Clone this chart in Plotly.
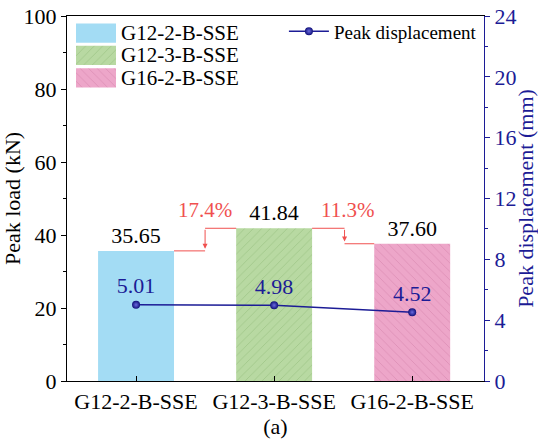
import plotly.graph_objects as go

# Specimen data
specimens = ["G12-2-B-SSE", "G12-3-B-SSE", "G16-2-B-SSE"]
peak_load = [35.65, 41.84, 37.60]          # kN
peak_disp = [5.01, 4.98, 4.52]             # mm
increase_labels = ["17.4%", "11.3%"]

bar_colors = ["#A3DCF4", "#B8D9A2", "#EDA6C9"]
hatch_fg = ["#A3DCF4", "#8DB874", "#CF7CA5"]
hatch_shape = ["", "/", "\\"]

FONT = "Times New Roman"
NAVY = "#1C1C96"
RED = "#F0504F"
xs = [0, 1, 2]
bw = 0.55

fig = go.Figure()

for i, name in enumerate(specimens):
    fig.add_trace(go.Bar(
        x=[xs[i]], y=[peak_load[i]], width=bw, name=name,
        marker=dict(color=bar_colors[i], line=dict(width=0),
                    pattern=dict(shape=hatch_shape[i], fgcolor=hatch_fg[i],
                                 bgcolor=bar_colors[i], size=6, solidity=0.15)),
        texttemplate="%{y:.2f}", textposition="outside", cliponaxis=False,
        textfont=dict(family=FONT, size=22, color="black"),
        showlegend=False,
    ))

fig.add_trace(go.Scatter(
    x=xs, y=peak_disp, yaxis="y2", name="Peak displacement",
    mode="lines+markers+text", text=[f"{v:.2f}" for v in peak_disp],
    textposition="top center", textfont=dict(family=FONT, size=22, color=NAVY),
    line=dict(color=NAVY, width=1.5),
    marker=dict(color="#10107A", size=8, gradient=dict(type="radial", color="#6A6ADF")),
    cliponaxis=False,
))

# Swatches for the specimen key, drawn on a small inset axis
for i, name in enumerate(specimens):
    fig.add_trace(go.Bar(
        x=[1], y=[i], base=0, orientation="h", width=0.86,
        xaxis="x3", yaxis="y3", showlegend=False, hoverinfo="skip",
        marker=dict(color=bar_colors[i], line=dict(width=0),
                    pattern=dict(shape=hatch_shape[i], fgcolor=hatch_fg[i],
                                 bgcolor=bar_colors[i], size=6, solidity=0.15)),
    ))

annotations = []
for i, name in enumerate(specimens):
    annotations.append(dict(x=1, y=i, xref="x3", yref="y3", text=name, showarrow=False,
                            xanchor="left", xshift=3, font=dict(family=FONT, size=21, color="black")))

# Increase arrows between neighbouring bars
steps = [(0, 1, 0.5, 0.5), (1, 2, 1.51, 1.53)]
shapes = []
for k, (a, b, xa, xl) in enumerate(steps):
    lo = min(peak_load[a], peak_load[b])
    hi = max(peak_load[a], peak_load[b])
    left_y = peak_load[a]
    right_y = peak_load[b]
    shapes.append(dict(type="line", xref="x", yref="y", x0=xs[a] + bw / 2, x1=xa,
                       y0=left_y, y1=left_y, line=dict(color=RED, width=1)))
    shapes.append(dict(type="line", xref="x", yref="y", x0=xa, x1=xs[b] - bw / 2,
                       y0=right_y, y1=right_y, line=dict(color=RED, width=1)))
    annotations.append(dict(x=xa, y=lo + 0.6, ax=xa, ay=hi, xref="x", yref="y",
                            axref="x", ayref="y", text="", showarrow=True,
                            arrowhead=2, arrowsize=1, arrowwidth=1, arrowcolor=RED, standoff=0))
    annotations.append(dict(x=xl, y=hi + 1.3, xref="x", yref="y", text=increase_labels[k],
                            showarrow=False, yanchor="bottom",
                            font=dict(family=FONT, size=21, color=RED)))

fig.update_layout(
    width=538, height=442,
    margin=dict(l=67, r=54, t=16, b=61, autoexpand=False),
    plot_bgcolor="white", paper_bgcolor="white",
    font=dict(family=FONT, size=22, color="black"),
    barmode="overlay",
    xaxis=dict(range=[-0.5, 2.52], tickvals=xs, ticktext=specimens, automargin=False,
               ticks="inside", ticklen=5, tickcolor="black", ticklabelstandoff=1,
               showline=True, linecolor="black", linewidth=1, mirror=True,
               showgrid=False, zeroline=False,
               tickfont=dict(family=FONT, size=22),
               title=dict(text="(a)", standoff=1, font=dict(family=FONT, size=22))),
    yaxis=dict(range=[0, 100], dtick=20, ticks="outside", ticklen=5, tickcolor="black",
               minor=dict(dtick=10, ticks="outside", ticklen=3, tickcolor="black"),
               showline=True, linecolor="black", linewidth=1, automargin=False,
               showgrid=False, zeroline=False,
               tickfont=dict(family=FONT, size=22),
               title=dict(text="Peak load (kN)", standoff=4, font=dict(family=FONT, size=22))),
    yaxis2=dict(range=[0, 24], dtick=4, overlaying="y", side="right", automargin=False,
                ticks="outside", ticklen=5, tickcolor=NAVY,
                minor=dict(dtick=2, ticks="outside", ticklen=3, tickcolor=NAVY),
                showline=True, linecolor=NAVY, linewidth=1,
                showgrid=False, zeroline=False,
                tickfont=dict(family=FONT, size=22, color=NAVY),
                title=dict(text="Peak displacement (mm)", standoff=6,
                           font=dict(family=FONT, size=22, color=NAVY))),
    xaxis3=dict(domain=[0.0216, 0.1175], range=[0, 1], visible=False, anchor="y3"),
    yaxis3=dict(domain=[0.800, 0.984], range=[2.5, -0.5], visible=False, anchor="x3"),
    legend=dict(x=0.995, y=1.01, xanchor="right", yanchor="top",
                bgcolor="rgba(0,0,0,0)", font=dict(family=FONT, size=19),
                itemwidth=40),
    shapes=shapes,
    annotations=annotations,
)

fig.write_html("out.html")
